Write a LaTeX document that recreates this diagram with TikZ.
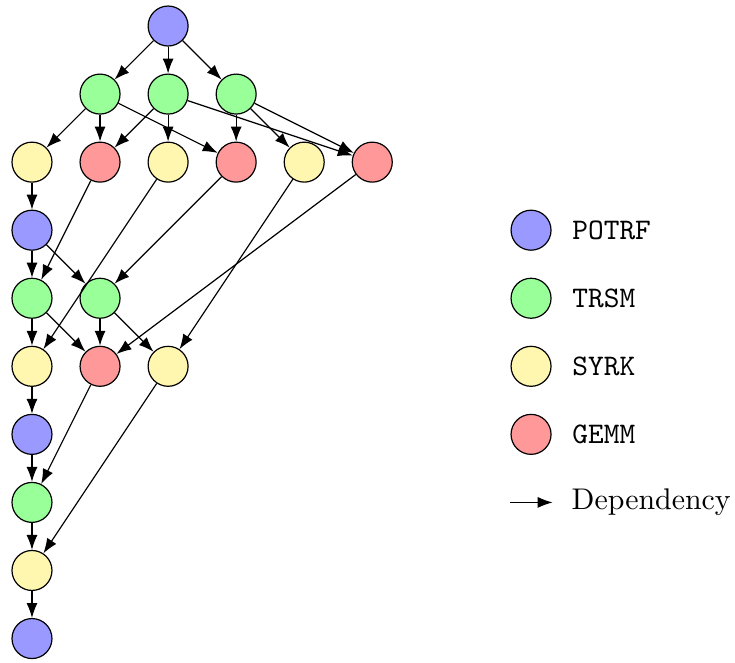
\documentclass[tikz,border=0pt]{standalone}
\usetikzlibrary{arrows,arrows.meta,positioning}

\definecolor{potrfcol}{RGB}{153,153,255}
\definecolor{trsmcol}{RGB}{153,255,153}
\definecolor{syrkcol}{RGB}{255,247,175}
\definecolor{gemmcol}{RGB}{255,153,153}

\begin{document}
\begin{tikzpicture}[>={Latex[length=5pt,width=3.7pt]},x=0.8cm,y=0.8cm]
	\tikzstyle{task}=[circle,draw,inner sep=0pt,minimum size=0.47cm]
	\tikzstyle{potrf}=[task,fill=potrfcol]
	\tikzstyle{trsm}=[task,fill=trsmcol]
	\tikzstyle{syrk}=[task,fill=syrkcol]
	\tikzstyle{gemm}=[task,fill=gemmcol]
	\tikzstyle{dep}=[->]
	\useasboundingbox (-0.47,0.3825) rectangle (10.33,-9.345);

	% step 0
	\node[potrf] (P0) at (2,0) {};
	\node[trsm] (T10) at (1,-1) {};
	\node[trsm] (T20) at (2,-1) {};
	\node[trsm] (T30) at (3,-1) {};
	\node[syrk] (S11) at (0,-2) {};
	\node[gemm] (G21) at (1,-2) {};
	\node[syrk] (S22) at (2,-2) {};
	\node[gemm] (G31) at (3,-2) {};
	\node[syrk] (S33) at (4,-2) {};
	\node[gemm] (G32) at (5,-2) {};
	% step 1
	\node[potrf] (P1) at (0,-3) {};
	\node[trsm] (T21) at (0,-4) {};
	\node[trsm] (T31) at (1,-4) {};
	\node[syrk] (S22b) at (0,-5) {};
	\node[gemm] (G32b) at (1,-5) {};
	\node[syrk] (S33b) at (2,-5) {};
	% step 2
	\node[potrf] (P2) at (0,-6) {};
	\node[trsm] (T32) at (0,-7) {};
	\node[syrk] (S33c) at (0,-8) {};
	% step 3
	\node[potrf] (P3) at (0,-9) {};

	\draw[dep] (P0) -- (T10);
	\draw[dep] (P0) -- (T20);
	\draw[dep] (P0) -- (T30);
	\draw[dep] (T10) -- (S11);
	\draw[dep] (T10) -- (G21);
	\draw[dep] (T10) -- (G31);
	\draw[dep] (T20) -- (G21);
	\draw[dep] (T20) -- (S22);
	\draw[dep] (T20) -- (G32);
	\draw[dep] (T30) -- (G31);
	\draw[dep] (T30) -- (S33);
	\draw[dep] (T30) -- (G32);

	\draw[dep] (S11) -- (P1);
	\draw[dep] (P1) -- (T21);
	\draw[dep] (P1) -- (T31);
	\draw[dep] (G21) -- (T21);
	\draw[dep] (G31) -- (T31);
	\draw[dep] (T21) -- (S22b);
	\draw[dep] (S22) -- (S22b);
	\draw[dep] (T21) -- (G32b);
	\draw[dep] (T31) -- (G32b);
	\draw[dep] (G32) -- (G32b);
	\draw[dep] (T31) -- (S33b);
	\draw[dep] (S33) -- (S33b);

	\draw[dep] (S22b) -- (P2);
	\draw[dep] (P2) -- (T32);
	\draw[dep] (G32b) -- (T32);
	\draw[dep] (T32) -- (S33c);
	\draw[dep] (S33b) -- (S33c);
	\draw[dep] (S33c) -- (P3);

	% legend
	\node[potrf] (Lp) at (7.333,-3) {};
	\node[right=0.12cm of Lp] {\texttt{POTRF}};
	\node[trsm] (Lt) at (7.333,-4) {};
	\node[right=0.12cm of Lt] {\texttt{TRSM}};
	\node[syrk] (Ls) at (7.333,-5) {};
	\node[right=0.12cm of Ls] {\texttt{SYRK}};
	\node[gemm] (Lg) at (7.333,-6) {};
	\node[right=0.12cm of Lg] {\texttt{GEMM}};
	\coordinate (La) at (7.03,-7);
	\coordinate (Lb) at (7.65,-7);
	\draw[dep] (La) -- (Lb);
	\node[right=0.1cm of Lb] {Dependency};
\end{tikzpicture}
\end{document}
